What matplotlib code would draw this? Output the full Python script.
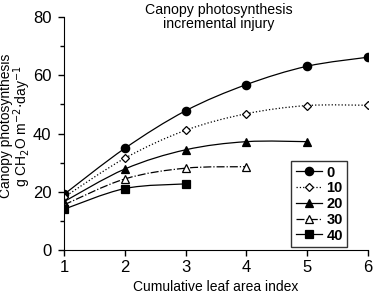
import matplotlib
matplotlib.use("Agg")
import matplotlib.pyplot as plt
import numpy as np
from matplotlib.path import Path
from matplotlib.patches import PathPatch
from matplotlib.lines import Line2D
from matplotlib.ticker import MultipleLocator

plt.rcParams['font.family'] = ['Liberation Sans', 'DejaVu Sans']

lai = [1, 2, 3, 4, 5, 6]
injury_labels = ['0', '10', '20', '30', '40']
photo_0 = [19.1, 34.9, 47.8, 56.8, 63.1, 66.2]
photo_10 = [18.1, 31.5, 41.1, 46.8, 49.6, 49.7]
photo_20 = [16.6, 27.8, 34.4, 37.2, 37.2]
photo_30 = [15.5, 24.4, 28.1, 28.6]
photo_40 = [14.0, 21.1, 22.7]

series = [photo_0, photo_10, photo_20, photo_30, photo_40]
markers = ['o', 'D', '^', '^', 's']
faces = ['black', 'white', 'black', 'white', 'black']
sizes = [6, 4.5, 6, 6, 6]
styles = ['-', ':', '-', '-.', '-']


def smooth_path(x, y, t=1 / 6):
    # Excel-style smoothed line: Catmull-Rom -> cubic Bezier
    x = np.asarray(x, float)
    y = np.asarray(y, float)
    px = np.concatenate([[x[0]], x, [x[-1]]])
    py = np.concatenate([[y[0]], y, [y[-1]]])
    verts = [(x[0], y[0])]
    codes = [Path.MOVETO]
    for i in range(1, len(x)):
        c1 = (px[i] + (px[i + 1] - px[i - 1]) * t, py[i] + (py[i + 1] - py[i - 1]) * t)
        c2 = (px[i + 1] - (px[i + 2] - px[i]) * t, py[i + 1] - (py[i + 2] - py[i]) * t)
        verts += [c1, c2, (x[i], y[i])]
        codes += [Path.CURVE4] * 3
    return Path(verts, codes)


fig = plt.figure(figsize=(3.76, 2.94), dpi=100)
ax = fig.add_axes([64 / 376, 1 - 250 / 294, 304 / 376, 233 / 294])

handles = []
for vals, m, fc, ms, ls, lab in zip(series, markers, faces, sizes, styles, injury_labels):
    xs = lai[:len(vals)]
    ax.add_patch(PathPatch(smooth_path(xs, vals), fill=False, edgecolor='black',
                           linewidth=0.9, linestyle=ls))
    ax.plot(xs, vals, linestyle='none', marker=m, markersize=ms,
            markerfacecolor=fc, markeredgecolor='black', markeredgewidth=0.9)
    handles.append(Line2D([], [], color='black', linewidth=0.9, linestyle=ls, marker=m,
                          markersize=ms, markerfacecolor=fc, markeredgecolor='black',
                          markeredgewidth=0.9, label=lab))

ax.set_xlim(1, 6)
ax.set_ylim(0, 80)
ax.set_xticks(lai)
ax.yaxis.set_major_locator(MultipleLocator(20))
ax.yaxis.set_minor_locator(MultipleLocator(10))
ax.spines['top'].set_visible(False)
ax.spines['right'].set_visible(False)
ax.tick_params(which='both', direction='out', labelsize=12, width=1)
ax.tick_params(which='major', length=4)
ax.tick_params(which='minor', length=3)
ax.tick_params(axis='y', pad=5)

ax.set_xlabel('Cumulative leaf area index', fontsize=10, labelpad=3)
fig.text(16 / 376, 1 - 126 / 294, 'Canopy photosynthesis\ng CH$_2$O m$^{-2}$$\\cdot$day$^{-1}$',
         rotation=90, ha='center', va='center', multialignment='center',
         fontsize=10, linespacing=0.95)
ax.text(0.51, 1.0, 'Canopy photosynthesis\nincremental injury', transform=ax.transAxes,
        ha='center', va='center', fontsize=10.2, linespacing=1.0)

leg = ax.legend(handles=handles, loc='lower right', bbox_to_anchor=(0.932, 0.013),
                frameon=True, fancybox=False, edgecolor='black',
                handlelength=1.8, handletextpad=0.3, labelspacing=0.12,
                borderpad=0.3, borderaxespad=0,
                prop={'weight': 'bold', 'size': 10.5})
leg.get_frame().set_linewidth(1)

fig.savefig('out.png', dpi=100)
